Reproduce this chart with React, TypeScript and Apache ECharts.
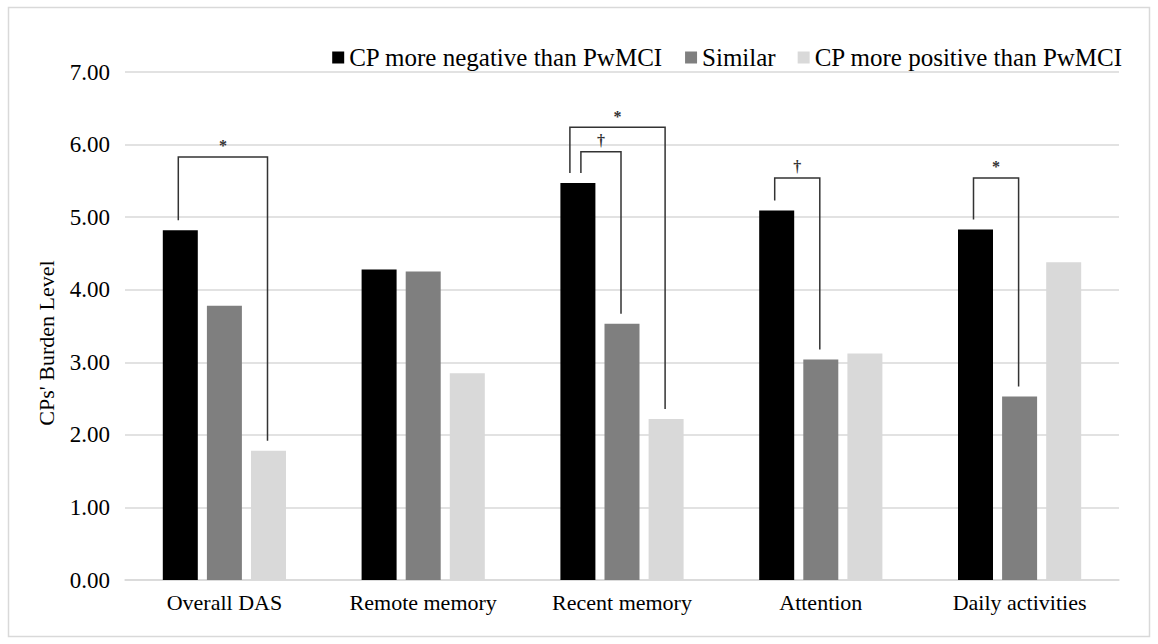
import React, { useEffect, useRef } from "react";
import * as echarts from "echarts";

const categories = ["Overall DAS", "Remote memory", "Recent memory", "Attention", "Daily activities"];
const seriesNames = ["CP more negative than PwMCI", "Similar", "CP more positive than PwMCI"];
const negativeValues = [4.82, 4.28, 5.47, 5.09, 4.83];
const similarValues = [3.78, 4.25, 3.53, 3.04, 2.53];
const positiveValues = [1.78, 2.85, 2.22, 3.12, 4.38];
const yMin = 0;
const yMax = 7;
const yInterval = 1;

// significance brackets
const bracketCategory = [0, 2, 2, 3, 4];
const bracketFrom = [0, 0, 0, 0, 0];
const bracketTo = [2, 2, 1, 1, 1];
const bracketLevel = [5.83, 6.24, 5.9, 5.54, 5.54];
const bracketMark = ["*", "*", "\u2020", "\u2020", "*"];

const allValues = [negativeValues, similarValues, positiveValues];
const colors = ["#000000", "#7f7f7f", "#d9d9d9"];
const FONT = "Liberation Serif";
const BAR_W = 35;
const BAR_GAP = 0.26;
const STEP = BAR_W * (1 + BAR_GAP);
const END_GAP = 10;

export default function App() {
  const ref = useRef<HTMLDivElement>(null);
  useEffect(() => {
    if (!ref.current) return;
    const chart = echarts.init(ref.current, undefined, { renderer: "svg" });
    const bracketData = bracketCategory.map((c, i) => {
      const fromV = allValues[bracketFrom[i]][c];
      const toV = allValues[bracketTo[i]][c];
      const shared =
        bracketCategory.filter((cc, j) => cc === c && bracketFrom[j] === bracketFrom[i]).length > 1;
      const higher = bracketCategory.some(
        (cc, j) => j !== i && cc === c && bracketLevel[j] > bracketLevel[i]
      );
      const shift = shared ? (higher ? 3 : -8) : -2;
      return [c, bracketFrom[i], bracketTo[i], bracketLevel[i], fromV, toV, shift];
    });
    const option: any = {
      animation: false,
      backgroundColor: "#ffffff",
      textStyle: { fontFamily: FONT },
      grid: { left: 125, right: 39, top: 72, bottom: 64 },
      legend: {
        data: seriesNames,
        right: 30,
        top: 40,
        icon: "rect",
        itemWidth: 12,
        itemHeight: 12,
        itemGap: 22,
        textStyle: { fontFamily: FONT, fontSize: 25, color: "#000" },
      },
      xAxis: {
        type: "category",
        data: categories,
        axisTick: { show: false },
        axisLine: { lineStyle: { color: "#d9d9d9", width: 1.5 } },
        axisLabel: { fontFamily: FONT, fontSize: 22, color: "#000", margin: 11 },
      },
      yAxis: {
        type: "value",
        min: yMin,
        max: yMax,
        interval: yInterval,
        name: "CPs' Burden Level",
        nameLocation: "middle",
        nameGap: 68,
        nameTextStyle: { fontFamily: FONT, fontSize: 22, color: "#000", padding: [0, 34, 0, 0] },
        axisLine: { show: false },
        axisTick: { show: false },
        splitLine: { lineStyle: { color: "#d9d9d9", width: 1.5 } },
        axisLabel: {
          fontFamily: FONT,
          fontSize: 23,
          color: "#000",
          margin: 15,
          formatter: (v: number) => v.toFixed(2),
        },
      },
      graphic: [
        {
          type: "rect",
          shape: { x: 8.5, y: 7.5, width: 1141, height: 629 },
          style: { fill: "none", stroke: "#d9d9d9", lineWidth: 1.5 },
          silent: true,
        },
      ],
      series: [
        ...seriesNames.map((name, i) => ({
          name,
          type: "bar",
          data: allValues[i],
          barWidth: BAR_W,
          barGap: `${BAR_GAP * 100}%`,
          itemStyle: { color: colors[i] },
        })),
        {
          type: "custom",
          name: "brackets",
          data: bracketData,
          encode: { x: 0, y: 3 },
          z: 5,
          renderItem: (params: any, api: any) => {
            const cat = api.value(0);
            const from = api.value(1);
            const to = api.value(2);
            const level = api.value(3);
            const fromV = api.value(4);
            const toV = api.value(5);
            const shift = api.value(6);
            const top = api.coord([cat, level]);
            const fromTop = api.coord([cat, fromV]);
            const toTop = api.coord([cat, toV]);
            const x1 = top[0] + (from - 1) * STEP + shift;
            const x2 = top[0] + (to - 1) * STEP - 1;
            return {
              type: "group",
              children: [
                {
                  type: "polyline",
                  shape: {
                    points: [
                      [x1, fromTop[1] - END_GAP],
                      [x1, top[1]],
                      [x2, top[1]],
                      [x2, toTop[1] - END_GAP],
                    ],
                  },
                  style: { stroke: "#333333", lineWidth: 1.5, fill: "none" },
                },
                {
                  type: "text",
                  style: {
                    text: bracketMark[params.dataIndex],
                    x: (x1 + x2) / 2,
                    y: top[1] - 3,
                    textAlign: "center",
                    textVerticalAlign: "bottom",
                    font: `bold 16px "${FONT}"`,
                    fill: "#333333",
                  },
                },
              ],
            };
          },
        },
      ],
    };
    chart.setOption(option);
    return () => chart.dispose();
  }, []);
  return (
    <div
      ref={ref}
      style={{ position: "fixed", left: 0, top: 0, width: 1158, height: 644, background: "#fff" }}
    />
  );
}
